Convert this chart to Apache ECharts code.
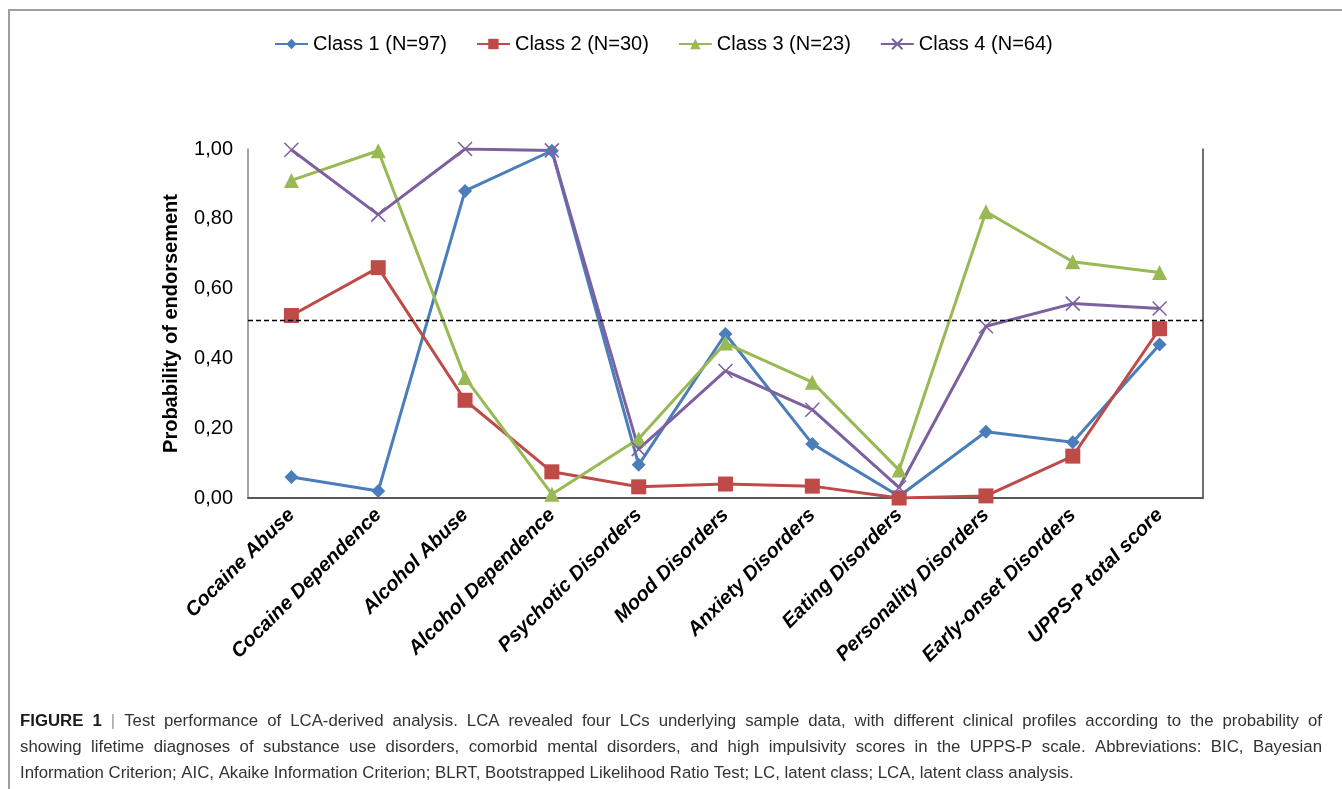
<!DOCTYPE html>
<html>
<head>
<meta charset="utf-8">
<script src="https://cdn.jsdelivr.net/npm/echarts@6/dist/echarts.min.js"></script>
<style>
  html, body { margin: 0; padding: 0; background: #ffffff; }
  #chart { width: 1342px; height: 789px; }
</style>
</head>
<body>
<div id="chart"></div>
<script>
// data
const categories = ['Cocaine Abuse', 'Cocaine Dependence', 'Alcohol Abuse', 'Alcohol Dependence',
  'Psychotic Disorders', 'Mood Disorders', 'Anxiety Disorders', 'Eating Disorders',
  'Personality Disorders', 'Early-onset Disorders', 'UPPS-P total score'];
const class1 = [0.06, 0.02, 0.88, 0.995, 0.095, 0.47, 0.155, 0.005, 0.19, 0.16, 0.44];
const class2 = [0.523, 0.66, 0.28, 0.075, 0.032, 0.04, 0.034, 0.0, 0.006, 0.12, 0.485];
const class3 = [0.91, 0.995, 0.345, 0.011, 0.17, 0.444, 0.332, 0.08, 0.82, 0.677, 0.646];
const class4 = [0.998, 0.812, 1.0, 0.996, 0.14, 0.364, 0.253, 0.03, 0.492, 0.557, 0.543];
const seriesNames = ['Class 1 (N=97)', 'Class 2 (N=30)', 'Class 3 (N=23)', 'Class 4 (N=64)'];
const threshold = 0.507;

const captionLines = [
  'FIGURE 1 | Test performance of LCA-derived analysis. LCA revealed four LCs underlying sample data, with different clinical profiles according to the probability of',
  'showing lifetime diagnoses of substance use disorders, comorbid mental disorders, and high impulsivity scores in the UPPS-P scale. Abbreviations: BIC, Bayesian',
  'Information Criterion; AIC, Akaike Information Criterion; BLRT, Bootstrapped Likelihood Ratio Test; LC, latent class; LCA, latent class analysis.'
];

const font = 'Liberation Sans, Arial, sans-serif';
const crossPath = 'path://M0,0 L10,10 M10,0 L0,10';

let myChart = echarts.init(document.getElementById('chart'));

function line(name, data, color, symbol, size, extra) {
  let s = {
    name: name,
    type: 'line',
    data: data,
    symbol: symbol,
    symbolSize: size,
    lineStyle: { color: color, width: 3 },
    itemStyle: { color: color },
    emphasis: { disabled: true },
    z: 3
  };
  return Object.assign(s, extra || {});
}

// caption, justified like the journal text block (last line left as is)
function captionGraphics() {
  const ctx = document.createElement('canvas').getContext('2d');
  const size = 16.8, left = 20, right = 1322, top = 721, lh = 26;
  let out = [];
  captionLines.forEach(function (txt, li) {
    let words = txt.split(' ');
    let styles = words.map(function (w, wi) {
      if (li == 0 && wi < 2) return { weight: 'bold', fill: '#1a1a1a' };
      if (li == 0 && wi == 2) return { weight: 'normal', fill: '#999' };
      return { weight: 'normal', fill: '#333' };
    });
    let widths = words.map(function (w, wi) {
      ctx.font = styles[wi].weight + ' ' + size + 'px ' + font;
      return ctx.measureText(w).width;
    });
    ctx.font = 'normal ' + size + 'px ' + font;
    let space = ctx.measureText(' ').width;
    let total = widths.reduce(function (a, b) { return a + b; }, 0);
    if (li < captionLines.length - 1) {
      space = (right - left - total) / (words.length - 1);
    }
    let x = left;
    words.forEach(function (w, wi) {
      out.push({
        type: 'text',
        x: x,
        y: top + li * lh,
        style: {
          text: w,
          fontSize: size,
          fontWeight: styles[wi].weight,
          fontFamily: font,
          fill: styles[wi].fill,
          verticalAlign: 'middle'
        }
      });
      x += widths[wi] + space;
    });
  });
  return out;
}

myChart.setOption({
  animation: false,
  textStyle: { fontFamily: font },
  legend: {
    top: 29,
    left: 269,
    itemWidth: 33,
    itemHeight: 13,
    itemGap: 29,
    textStyle: { fontSize: 20, color: '#000', fontFamily: font },
    data: seriesNames
  },
  grid: { left: 248, right: 139, top: 149, bottom: 291 },
  xAxis: [
    {
      type: 'category',
      data: categories,
      axisLine: { lineStyle: { color: '#868686', width: 1.5 } },
      axisTick: { alignWithLabel: true, length: 6, lineStyle: { color: '#868686', width: 1.5 } },
      axisLabel: {
        rotate: 45,
        margin: 14,
        interval: 0,
        fontSize: 20,
        fontWeight: 'bold',
        fontStyle: 'italic',
        color: '#000',
        fontFamily: font
      }
    },
    {
      type: 'category',
      position: 'top',
      data: categories,
      axisLine: { lineStyle: { color: '#404040', width: 1.5 } },
      axisTick: { show: false },
      axisLabel: { show: false }
    }
  ],
  yAxis: [
    {
      type: 'value',
      min: 0,
      max: 1,
      interval: 0.2,
      name: 'Probability of endorsement',
      nameLocation: 'middle',
      nameGap: 67,
      nameTextStyle: { fontSize: 20, fontWeight: 'bold', color: '#000', fontFamily: font },
      axisLine: { show: true, lineStyle: { color: '#868686', width: 1.5 } },
      axisTick: { show: false },
      splitLine: { show: false },
      axisLabel: {
        fontSize: 20,
        color: '#000',
        margin: 15,
        fontFamily: font,
        formatter: function (v) {
          return v.toFixed(2).replace('.', ',');
        }
      }
    },
    {
      type: 'value',
      min: 0,
      max: 1,
      position: 'right',
      axisLine: { show: true, lineStyle: { color: '#404040', width: 1.5 } },
      axisTick: { show: false },
      axisLabel: { show: false },
      splitLine: { show: false }
    }
  ],
  series: [
    line(seriesNames[0], class1, '#4A7EBB', 'diamond', 14, {
      markLine: {
        silent: true,
        symbol: 'none',
        label: { show: false },
        lineStyle: { color: '#000', type: [5, 3], width: 1.3 },
        data: [{ yAxis: threshold }]
      }
    }),
    line(seriesNames[1], class2, '#BE4B48', 'rect', 15),
    line(seriesNames[2], class3, '#98B954', 'triangle', 15),
    line(seriesNames[3], class4, '#7D60A0', crossPath, 14, {
      itemStyle: { color: '#7D60A0', borderColor: '#7D60A0', borderWidth: 1.5 }
    })
  ],
  graphic: [
    {
      type: 'polyline',
      shape: { points: [[9, 789], [9, 10], [1342, 10]] },
      style: { stroke: '#a0a0a0', lineWidth: 2, fill: null }
    }
  ].concat(captionGraphics())
});
</script>
</body>
</html>
